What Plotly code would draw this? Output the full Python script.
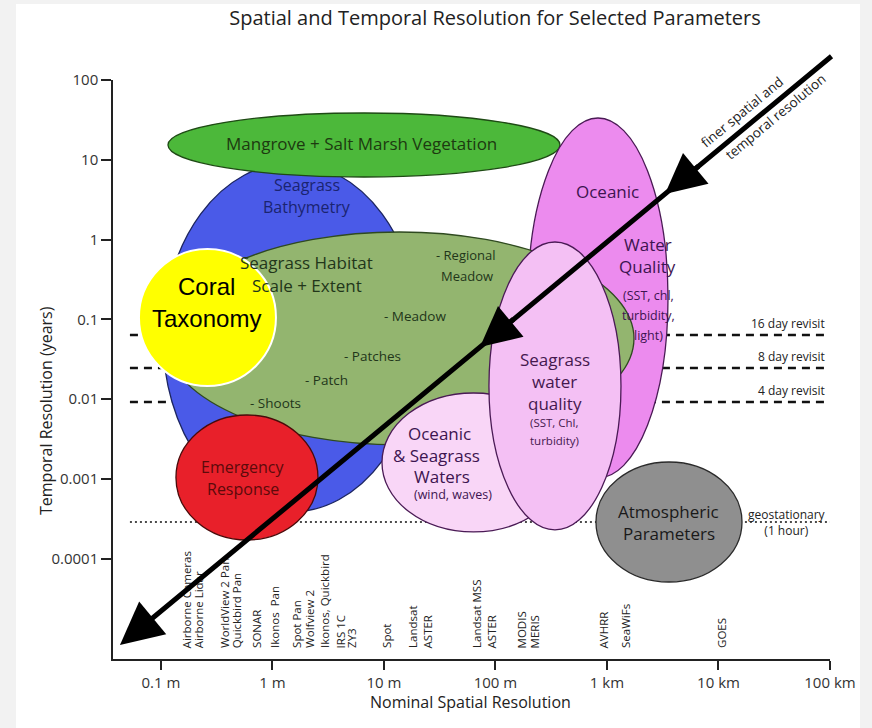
import numpy as np
import plotly.graph_objects as go

# ---------------- axes ----------------
x_tick_vals = [0.1, 1, 10, 100, 1000, 10000, 100000]
x_tick_text = ["0.1 m", "1 m", "10 m", "100 m", "1 km", "10 km", "100 km"]
y_tick_vals = [1e-4, 1e-3, 1e-2, 0.1, 1, 10, 100]
y_tick_text = ["0.0001", "0.001", "0.01", "0.1", "1", "10", "100"]
x_range_log = [-1.43, 5.0]
y_range_log = [-5.256, 2.0]

# ---------------- parameter envelopes (drawing order) ----------------
param_names = ["Seagrass Bathymetry", "Mangrove + Salt Marsh Vegetation", "Oceanic Water Quality",
               "Seagrass Habitat", "Oceanic & Seagrass Waters", "Seagrass water quality",
               "Emergency Response", "Atmospheric Parameters", "Coral Taxonomy"]
spatial_min_m = [0.1042, 0.1156, 195.6, 0.1086, 9.60, 87.4, 0.1363, 796.6, 0.0635]
spatial_max_m = [21.0, 378.9, 3525, 1746, 420.1, 1335, 2.559, 16250, 1.075]
temporal_min_yr = [3.86e-4, 6.09, 1.029e-3, 2.67e-3, 2.17e-4, 2.30e-4, 1.72e-4, 5.12e-5, 0.01463]
temporal_max_yr = [9.12, 38.6, 33.4, 1.245, 0.01196, 0.933, 6.34e-3, 1.633e-3, 0.762]
fill_colors = ["#4a5ae8", "#4cb83a", "#ec8bee", "#93b56f", "#f9d6f7", "#f4c0f4",
               "#e8202a", "#8f8f8f", "#ffff00"]
edge_colors = ["#1c2560", "#1e4a14", "#4a1a55", "#2f4a20", "#4a1a55", "#4a1a55",
               "#4a0a0a", "#2a2a2a", "#ffffff"]
edge_widths = [1.3, 1.3, 1.3, 1.3, 1.3, 1.3, 1.3, 1.3, 2.0]

# ---------------- revisit lines ----------------
revisit_labels = ["16 day revisit", "8 day revisit", "4 day revisit"]
revisit_yr = [0.0638, 0.0246, 0.00923]
line_start_m = 0.0527
line_end_m = 94600
geo_label = "geostationary<br>(1 hour)"
geo_yr = 2.89e-4
geo_end_m = 100000
geo_label_m = 41100

# ---------------- text labels (log10 m, log10 yr) ----------------
label_text = ["Mangrove + Salt Marsh Vegetation",
              "Seagrass", "Bathymetry",
              "Seagrass Habitat", "Scale + Extent",
              "- Regional", "Meadow", "- Meadow", "- Patches", "- Patch", "- Shoots",
              "Oceanic", "Water", "Quality", "(SST, chl,", "turbidity,", "light)",
              "Seagrass", "water", "quality", "(SST, Chl,", "turbidity)",
              "Oceanic", "& Seagrass", "Waters", "(wind, waves)",
              "Emergency", "Response",
              "Atmospheric", "Parameters"]
label_x_log = [0.8027,
               0.3094, 0.3094,
               0.3094, 0.3094,
               1.7354, 1.7444, 1.2780, 0.9013, 0.4888, 0.0314,
               3.0090, 3.3677, 3.3677, 3.3767, 3.3767, 3.3767,
               2.5336, 2.5336, 2.5336, 2.5336, 2.5336,
               1.5022, 1.4753, 1.5202, 1.6188,
               -0.2646, -0.2646,
               3.5561, 3.5561]
label_y_log = [1.2105,
               0.6842, 0.4085,
               -0.2932, -0.5815,
               -0.1930, -0.4561, -0.9574, -1.4586, -1.7594, -2.0476,
               0.5965, -0.0677, -0.3434, -0.7068, -0.9574, -1.2080,
               -1.5088, -1.7845, -2.0602, -2.2982, -2.5238,
               -2.4361, -2.7118, -2.9749, -3.2005,
               -2.8496, -3.1253,
               -3.4135, -3.6892]
label_size = [17,
              16, 16,
              17, 17,
              13, 13, 13.5, 13.5, 13.5, 13.5,
              17, 17, 17, 12.5, 12.5, 12.5,
              17, 17, 17, 11.5, 11.5,
              17, 17, 17, 12.5,
              16, 16,
              17, 17]
label_color = ["#1d3a10",
               "#1a2470", "#1a2470",
               "#22361a", "#22361a",
               "#22361a", "#22361a", "#22361a", "#22361a", "#22361a", "#22361a",
               "#3d1450", "#3d1450", "#3d1450", "#3d1450", "#3d1450", "#3d1450",
               "#45184f", "#45184f", "#45184f", "#45184f", "#45184f",
               "#3d1450", "#3d1450", "#3d1450", "#3d1450",
               "#5c0a0a", "#5c0a0a",
               "#1a1a1a", "#1a1a1a"]

coral_text = ["Coral", "Taxonomy"]
coral_x_log = [-0.5874, -0.5874]
coral_y_log = [-0.5940, -0.9950]

# ---------------- sensors (nominal resolution, m) ----------------
sensor_names = ["Airborne Cameras", "Airborne Lidar", "WorldView 2 Pan", "Quickbird Pan", "SONAR",
                "Ikonos  Pan", "Spot Pan", "Wolfview 2", "Ikonos, Quickbird", "IRS 1C", "ZY3",
                "Spot", "Landsat", "ASTER", "Landsat MSS", "ASTER", "MODIS", "MERIS",
                "AVHRR", "SeaWiFs", "GOES"]
sensor_res_m = [0.171, 0.219, 0.375, 0.480, 0.726, 1.053, 1.659, 2.169, 2.957, 4.115, 5.164,
                10.64, 18.20, 24.31, 68.27, 91.11, 169.3, 221.4, 920.6, 1481, 10750]
sensor_base_yr = 7.2e-6

# ---------------- arrow (m, yr) ----------------
arrow_head = (0.0429, 8.30e-6)
arrow_tail = (106400, 205.6)
mid_heads = [(3311, 3.73), (72.6, 0.0451)]
arrow_caption = ["finer spatial and", "temporal resolution"]
arrow_caption_m = [16250, 32120]
arrow_caption_yr = [39.7, 34.4]

FONT = "Open Sans"

fig = go.Figure()
fig.add_trace(go.Scatter(x=[1], y=[1], mode="markers", marker=dict(opacity=0),
                         hoverinfo="skip", showlegend=False))

shapes = []
# white card
shapes.append(dict(type="rect", xref="paper", yref="paper", x0=-0.1353, x1=1.0418,
                   y0=-0.125, y1=1.1313, fillcolor="white", line=dict(width=0), layer="below"))
# revisit lines
for yv in revisit_yr:
    shapes.append(dict(type="line", xref="x", yref="y", x0=line_start_m, x1=line_end_m,
                       y0=yv, y1=yv, line=dict(color="#111", width=2.5, dash="8px,6px"),
                       layer="below"))
shapes.append(dict(type="line", xref="x", yref="y", x0=line_start_m, x1=geo_end_m,
                   y0=geo_yr, y1=geo_yr, line=dict(color="#111", width=1.6, dash="2px,3px"),
                   layer="below"))
# envelopes
for i in range(len(param_names)):
    shapes.append(dict(type="circle", xref="x", yref="y",
                       x0=spatial_min_m[i], x1=spatial_max_m[i],
                       y0=temporal_min_yr[i], y1=temporal_max_yr[i],
                       fillcolor=fill_colors[i],
                       line=dict(color=edge_colors[i], width=edge_widths[i]),
                       layer="below"))

ann = []
for t, xl, yl, s, c in zip(label_text, label_x_log, label_y_log, label_size, label_color):
    ann.append(dict(text=t, x=xl, y=yl, xref="x", yref="y", showarrow=False,
                    font=dict(family=FONT, size=s, color=c), xanchor="center", yanchor="middle"))
for t, xl, yl in zip(coral_text, coral_x_log, coral_y_log):
    ann.append(dict(text=t, x=xl, y=yl, xref="x", yref="y", showarrow=False,
                    font=dict(family="Liberation Sans, Arial", size=24, color="black"),
                    xanchor="center", yanchor="middle"))
for lab, yv in zip(revisit_labels, revisit_yr):
    ann.append(dict(text=lab, x=np.log10(line_end_m), y=np.log10(yv), xref="x", yref="y",
                    showarrow=False, xanchor="right", yanchor="bottom", yshift=1,
                    font=dict(family=FONT, size=12, color="#222")))
ann.append(dict(text=geo_label, x=np.log10(geo_label_m), y=np.log10(geo_yr), xref="x", yref="y",
                showarrow=False, xanchor="center", yanchor="middle",
                font=dict(family=FONT, size=12, color="#222")))
for name, r in zip(sensor_names, sensor_res_m):
    ann.append(dict(text=name, x=np.log10(r), y=np.log10(sensor_base_yr), xref="x", yref="y",
                    showarrow=False, textangle=-90, xanchor="center", yanchor="bottom",
                    font=dict(family=FONT, size=11.5, color="#222")))
# arrow
ann.append(dict(text="", x=np.log10(arrow_head[0]), y=np.log10(arrow_head[1]),
                ax=np.log10(arrow_tail[0]), ay=np.log10(arrow_tail[1]),
                xref="x", yref="y", axref="x", ayref="y", showarrow=True,
                arrowhead=2, arrowsize=1.7, arrowwidth=5, arrowcolor="black", standoff=0))
for hx, hy in mid_heads:
    ann.append(dict(text="", x=np.log10(hx), y=np.log10(hy), xref="x", yref="y",
                    ax=35, ay=-29, showarrow=True, arrowhead=2, arrowsize=1.6,
                    arrowwidth=5, arrowcolor="black", standoff=0))
for t, m, yr in zip(arrow_caption, arrow_caption_m, arrow_caption_yr):
    ann.append(dict(text=t, x=np.log10(m), y=np.log10(yr), xref="x", yref="y", showarrow=False,
                    textangle=-39.6, font=dict(family=FONT, size=13.5, color="#222")))
# axis titles
ann.append(dict(text="Temporal Resolution (years)", x=-0.1116, y=0.43, xref="paper", yref="paper",
                showarrow=False, textangle=-90, font=dict(family=FONT, size=16, color="#222")))
ann.append(dict(text="Nominal Spatial Resolution", x=0.4993, y=-0.0967, xref="paper",
                yref="paper", showarrow=False, font=dict(family=FONT, size=16, color="#222")))

fig.update_layout(
    width=872, height=728,
    margin=dict(l=113, r=42, t=80, b=69),
    paper_bgcolor="#f2f2f2", plot_bgcolor="white",
    showlegend=False,
    title=dict(text="Spatial and Temporal Resolution for Selected Parameters",
               x=0.5328, xref="paper", y=0.975, yanchor="middle", xanchor="center",
               font=dict(family=FONT, size=20, color="#222")),
    shapes=shapes, annotations=ann,
    xaxis=dict(type="log", range=x_range_log, tickvals=x_tick_vals, ticktext=x_tick_text,
               showgrid=False, zeroline=False, showline=True, linecolor="#222", linewidth=1.5,
               ticks="outside", ticklen=9, tickwidth=1.5, tickcolor="#222",
               tickfont=dict(family=FONT, size=15, color="#333")),
    yaxis=dict(type="log", range=y_range_log, tickvals=y_tick_vals, ticktext=y_tick_text,
               showgrid=False, zeroline=False, showline=True, linecolor="#222", linewidth=1.5,
               ticks="outside", ticklen=10, tickwidth=1.5, tickcolor="#222",
               tickfont=dict(family=FONT, size=15, color="#333")),
)

fig.write_html("out.html", config={"displayModeBar": False},
               post_script="document.body.style.margin='0';")
